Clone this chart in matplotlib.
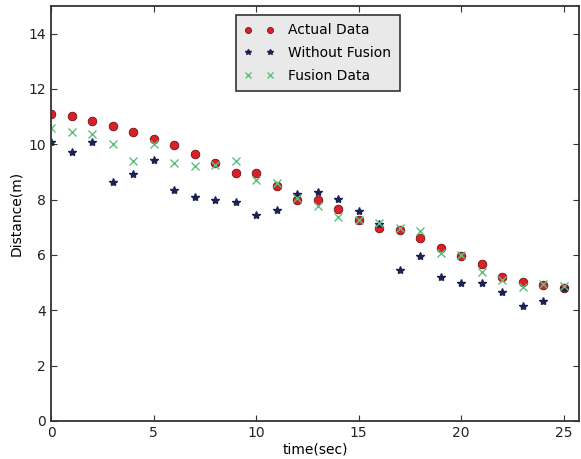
import matplotlib
matplotlib.use("Agg")
import matplotlib.pyplot as plt

time_sec = list(range(26))

actual_data = [11.10, 11.01, 10.85, 10.66, 10.43, 10.19, 9.96, 9.66, 9.32, 8.98,
               8.98, 8.49, 8.00, 7.97, 7.67, 7.26, 6.99, 6.92, 6.63, 6.25,
               5.98, 5.66, 5.19, 5.02, 4.91, 4.80]

without_fusion = [10.08, 9.74, 10.10, 8.65, 8.92, 9.44, 8.36, 8.10, 8.00, 7.90,
                  7.43, 7.62, 8.22, 8.27, 8.03, 7.60, 7.12, 5.45, 5.96, 5.22,
                  5.00, 4.98, 4.65, 4.14, 4.32, 4.80]

fusion_data = [10.59, 10.44, 10.37, 10.01, 9.41, 10.01, 9.32, 9.20, 9.26, 9.41,
               8.70, 8.60, 8.05, 7.78, 7.39, 7.25, 7.15, 6.96, 6.85, 6.09,
               5.99, 5.38, 5.10, 4.84, 4.95, 4.88]

series_labels = ["Actual Data", "Without Fusion", "Fusion Data"]
x_ticks = [0, 5, 10, 15, 20, 25]
y_ticks = [0, 2, 4, 6, 8, 10, 12, 14]

plt.rcParams["font.family"] = "DejaVu Sans"
plt.rcParams["font.size"] = 10

fig = plt.figure(figsize=(5.81, 4.59), dpi=100)
ax = fig.add_axes([51 / 581, 1 - 421 / 459, 528 / 581, 415 / 459])

ax.plot(time_sec, actual_data, linestyle="none", marker="o", markersize=6.2,
        color="#dd1f2a", markeredgecolor="#6a1414", markeredgewidth=0.6,
        label=series_labels[0])
ax.plot(time_sec, without_fusion, linestyle="none", marker="*", markersize=6,
        color="#1b2150", markeredgecolor="#1b2150", label=series_labels[1])
ax.plot(time_sec, fusion_data, linestyle="none", marker="x", markersize=5.5,
        color="#5fbf80", markeredgewidth=1.0, label=series_labels[2])

ax.set_xlim(0, 25.75)
ax.set_ylim(0, 15)
ax.set_xticks(x_ticks)
ax.set_yticks(y_ticks)
ax.tick_params(direction="in", top=True, right=True, length=4, width=0.8,
               colors="#333333", labelcolor="#222222")
for sp in ax.spines.values():
    sp.set_linewidth(1.3)
    sp.set_color("#333333")

ax.set_xlabel("time(sec)", labelpad=2)
ax.set_ylabel("Distance(m)", labelpad=4)

leg = ax.legend(loc="upper center", bbox_to_anchor=(0.505, 0.978), numpoints=2,
                borderaxespad=0, fancybox=False, framealpha=1, markerscale=0.7,
                handlelength=2.2, borderpad=0.6, labelspacing=0.62,
                handletextpad=1.0)
leg.get_frame().set_facecolor("#e9e9e9")
leg.get_frame().set_edgecolor("#333333")
leg.get_frame().set_linewidth(1.2)

fig.savefig("out.png", dpi=100)
